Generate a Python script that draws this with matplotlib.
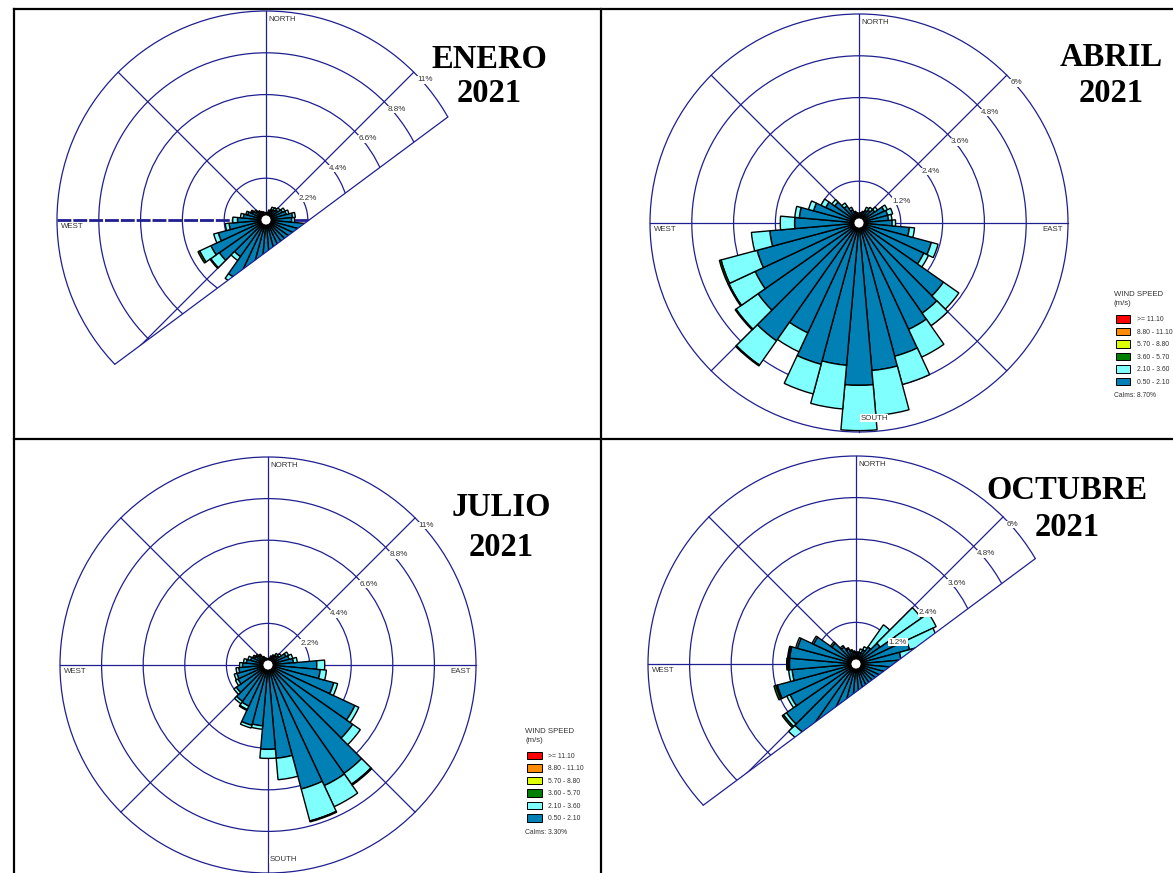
import numpy as np
import matplotlib
matplotlib.use("Agg")
import matplotlib.pyplot as plt
from matplotlib.patches import Wedge, Circle, Polygon, Patch
from matplotlib.lines import Line2D

plt.rcParams["font.family"] = ["Liberation Sans", "DejaVu Sans"]

W, H = 1173, 873
NAVY = "#1f1f8f"
GREY = "#333333"

# bar centres, degrees clockwise from north
directions = np.arange(0, 360, 10)

speed_labels = [">= 11.10", "8.80 - 11.10", "5.70 - 8.80", "3.60 - 5.70", "2.10 - 3.60", "0.50 - 2.10"]
speed_colors = ["#ff0000", "#ff8c00", "#ddff00", "#008000", "#80ffff", "#0080b4"]

months = ["ENERO", "ABRIL", "JULIO", "OCTUBRE"]
year = "2021"

# frequency (%) per direction for each speed class (0.50-2.10, 2.10-3.60, 3.60-5.70)
enero_c1 = [0.3, 0.35, 0.45, 0.6, 0.65, 0.75, 0.95, 1.1, 1.4, 1.35, 2.8, 3.0,
            3.2, 3.4, 3.6, 3.8, 4.0, 4.0, 3.9, 3.8, 3.6, 3.45, 2.35, 3.0,
            3.2, 2.6, 1.95, 1.5, 1.2, 1.0, 0.8, 0.65, 0.55, 0.45, 0.4, 0.35]
enero_c2 = [0.05, 0.05, 0.1, 0.15, 0.15, 0.15, 0.15, 0.15, 0.15, 0.15, 0.4, 0.4,
            0.4, 0.4, 0.4, 0.4, 0.4, 0.4, 0.4, 0.4, 0.4, 0.3, 0.25, 0.55,
            0.65, 0.25, 0.2, 0.25, 0.15, 0.1, 0.1, 0.1, 0.05, 0.05, 0.05, 0.05]
enero_c3 = [0] * 23 + [0.05, 0.1] + [0] * 11

abril_c1 = [0.2, 0.25, 0.3, 0.4, 0.45, 0.55, 0.8, 0.85, 0.85, 0.95, 1.45, 2.15,
            2.05, 2.96, 3.16, 3.37, 3.96, 4.25, 4.66, 4.1, 4.2, 3.48, 4.13, 3.54,
            3.29, 3.03, 2.57, 1.85, 1.72, 1.35, 1.05, 0.85, 0.6, 0.42, 0.3, 0.25]
abril_c2 = [0.05, 0.05, 0.05, 0.1, 0.1, 0.1, 0.1, 0.15, 0.1, 0.1, 0.15, 0.2,
            0.15, 0.54, 0.44, 0.88, 0.84, 1.3, 1.3, 1.26, 0.88, 0.6, 0.85, 0.77,
            0.83, 1.07, 0.53, 0.41, 0.13, 0.15, 0.15, 0.1, 0.1, 0.08, 0.05, 0.05]
abril_c3 = [0] * 22 + [0.03, 0.03, 0.03, 0.05] + [0] * 10

julio_c1 = [0.25, 0.3, 0.4, 0.5, 0.6, 0.7, 1.05, 1.15, 1.35, 2.58, 2.77, 3.6,
            5.07, 5.47, 7.0, 7.04, 6.79, 4.95, 4.46, 3.23, 3.3, 2.4, 2.35, 2.05,
            1.75, 1.7, 1.55, 1.35, 1.15, 0.95, 0.8, 0.7, 0.6, 0.45, 0.35, 0.3]
julio_c2 = [0.05, 0.05, 0.1, 0.1, 0.15, 0.15, 0.15, 0.2, 0.2, 0.42, 0.33, 0.21,
            0.23, 0.49, 0.7, 1.23, 1.75, 1.14, 0.48, 0.18, 0.15, 0.2, 0.15, 0.15,
            0.15, 0.15, 0.15, 0.15, 0.15, 0.15, 0.1, 0.1, 0.1, 0.05, 0.05, 0.05]
julio_c3 = [0] * 14 + [0.06, 0, 0.05, 0, 0, 0, 0, 0.05] + [0] * 14

octubre_c1 = [0.3, 0.3, 0.35, 0.45, 0.6, 0.85, 1.35, 1.6, 1.3, 1.8, 1.9, 2.0,
              2.1, 2.2, 2.2, 2.3, 2.3, 2.2, 2.1, 2.0, 2.0, 2.1, 2.5, 2.45,
              2.1, 2.35, 1.85, 1.92, 1.92, 1.75, 1.35, 0.85, 0.6, 0.48, 0.4, 0.35]
octubre_c2 = [0.05, 0.05, 0.1, 0.1, 0.78, 1.45, 1.2, 0.85, 0.9, 0.3, 0.3, 0.3,
              0.3, 0.3, 0.3, 0.3, 0.3, 0.3, 0.3, 0.3, 0.3, 0.3, 0.25, 0.1,
              0.1, 0.04, 0.1, 0.04, 0.03, 0.05, 0.05, 0.05, 0.05, 0.04, 0.03, 0.03]
octubre_c3 = [0] * 23 + [0.05, 0, 0.06, 0, 0.04, 0.03] + [0] * 7

calms_abril = 8.70
calms_julio = 3.30

fig = plt.figure(figsize=(W / 100, H / 100), dpi=100)


def rose_axes(cx, cy, R, rmax):
    # full-figure axes, centre of the rose at pixel (cx, cy), rmax % at R pixels
    ax = fig.add_axes([0, 0, 1, 1])
    k = rmax / R
    ax.set_xlim(-cx * k, (W - cx) * k)
    ax.set_ylim(-(H - cy) * k, cy * k)
    ax.axis("off")
    return ax


def draw_rose(ax, rmax, R, c1, c2, c3, cardinals, clip=None, dashed_we=False):
    k = rmax / R
    rings = rmax * np.arange(1, 6) / 5
    for r in rings:
        ax.add_patch(Circle((0, 0), r, fill=False, ec=NAVY, lw=0.9, zorder=1))
    for a in range(0, 360, 45):
        if dashed_we and a in (90, 270):
            continue
        t = np.radians(a)
        ax.plot([0, rmax * np.sin(t)], [0, rmax * np.cos(t)], color=NAVY, lw=0.9, zorder=1)
    if dashed_we:
        ax.plot([-rmax, rmax], [0, 0], color=NAVY, lw=2.0, ls=(0, (5, 0.7)), zorder=1)

    base = np.zeros(len(directions))
    for vals, col in zip([c1, c2, c3], speed_colors[::-1]):
        vals = np.asarray(vals, dtype=float)
        for d, b, v in zip(directions, base, vals):
            if v > 0:
                ax.add_patch(Wedge((0, 0), b + v, 85 - d, 95 - d, width=v,
                                   fc=col, ec="black", lw=1.0, zorder=2))
        base = base + vals
    ax.add_patch(Circle((0, 0), 5 * k, fc="white", ec="black", lw=0.6, zorder=3))

    if clip is not None:
        x0, alpha = clip
        u = np.array([np.cos(np.radians(alpha)), np.sin(np.radians(alpha))])
        nrm = np.array([-u[1], u[0]])
        p0 = np.array([x0, 0.0])
        L = 4 * rmax
        poly = Polygon([p0 - L * u, p0 + L * u, p0 + L * u + L * nrm, p0 - L * u + L * nrm],
                       transform=ax.transData)
        for art in list(ax.patches) + list(ax.lines):
            art.set_clip_path(poly)
        b = p0 @ u
        s = np.sqrt(b * b - (p0 @ p0 - rmax ** 2))
        ends = np.array([p0 + (-b - s) * u, p0 + (-b + s) * u])
        ax.plot(ends[:, 0], ends[:, 1], color=NAVY, lw=0.9, zorder=4)

    for r in rings:
        ax.annotate(f"{r:g}%", (r * np.sqrt(0.5), r * np.sqrt(0.5)), xytext=(2.5, -5.5),
                    textcoords="offset points", fontsize=5.8, color=GREY, ha="left", va="center",
                    zorder=5, bbox=dict(boxstyle="square,pad=0.05", fc="white", ec="none"))

    spots = {"NORTH": ((0, rmax), (2, -3.5), "left", "top"),
             "WEST": ((-rmax, 0), (2.5, -2.5), "left", "top"),
             "EAST": ((rmax, 0), (-4, -2.5), "right", "top"),
             "SOUTH": ((0, -rmax), (1, 10), "left", "center")}
    for name in cardinals:
        xy, off, ha, va = spots[name]
        box = dict(boxstyle="square,pad=0.05", fc="white", ec="none") if name == "SOUTH" else None
        ax.annotate(name, xy, xytext=off, textcoords="offset points", fontsize=5.7,
                    color=GREY, ha=ha, va=va, zorder=5, bbox=box)


def wind_legend(ax, x, y, calms):
    # x, y: pixel position of the top-left of the legend title
    fig.text(x / W, 1 - y / H, "WIND SPEED\n(m/s)", fontsize=5.6, color=GREY,
             ha="left", va="top", linespacing=1.3)
    handles = [Patch(fc=c, ec="black", lw=0.7) for c in speed_colors]
    ax.legend(handles, speed_labels, loc="upper left",
              bbox_to_anchor=((x + 2) / W, 1 - (y + 24) / H), bbox_transform=fig.transFigure,
              frameon=False, fontsize=4.9, handlelength=2.2, handleheight=1.3,
              handletextpad=0.9, labelspacing=0.66, borderpad=0, borderaxespad=0,
              labelcolor=GREY)
    fig.text(x / W, 1 - (y + 104) / H, f"Calms: {calms:.2f}%", fontsize=4.9,
             color=GREY, ha="left", va="center")


ax1 = rose_axes(266, 220, 209, 11)
draw_rose(ax1, 11, 209, enero_c1, enero_c2, enero_c3, ["NORTH", "WEST"],
          clip=(2.27, 36.6), dashed_we=True)

ax2 = rose_axes(859, 223, 209, 6)
draw_rose(ax2, 6, 209, abril_c1, abril_c2, abril_c3, ["NORTH", "WEST", "EAST", "SOUTH"])
wind_legend(ax2, 1113.5, 291.5, calms_abril)

ax3 = rose_axes(268, 665, 208, 11)
draw_rose(ax3, 11, 208, julio_c1, julio_c2, julio_c3, ["NORTH", "WEST", "EAST", "SOUTH"])
wind_legend(ax3, 525, 728, calms_julio)

ax4 = rose_axes(856, 664, 208, 6)
draw_rose(ax4, 6, 208, octubre_c1, octubre_c2, octubre_c3, ["NORTH", "WEST"],
          clip=(1.08, 36.6))

# month titles (centre x, baseline y of the month and of the year, in pixels)
title_pos = [(489, 68.5, 101.5), (1111, 66.5, 101.5), (501, 516, 556), (1067, 499, 536)]
for name, (tx, ty1, ty2) in zip(months, title_pos):
    for s, ty in ((name, ty1), (year, ty2)):
        fig.text(tx / W, 1 - ty / H, s, fontsize=23.5, fontweight="bold",
                 family="Liberation Serif", ha="center", va="baseline")

# table borders
for (xa, ya), (xb, yb) in [((14, 9), (W, 9)), ((14, 9), (14, H)),
                           ((601, 9), (601, H)), ((14, 439), (W, 439))]:
    fig.add_artist(Line2D([xa / W, xb / W], [1 - ya / H, 1 - yb / H],
                          transform=fig.transFigure, color="black", lw=1.6))

fig.savefig("out.png", dpi=100)
